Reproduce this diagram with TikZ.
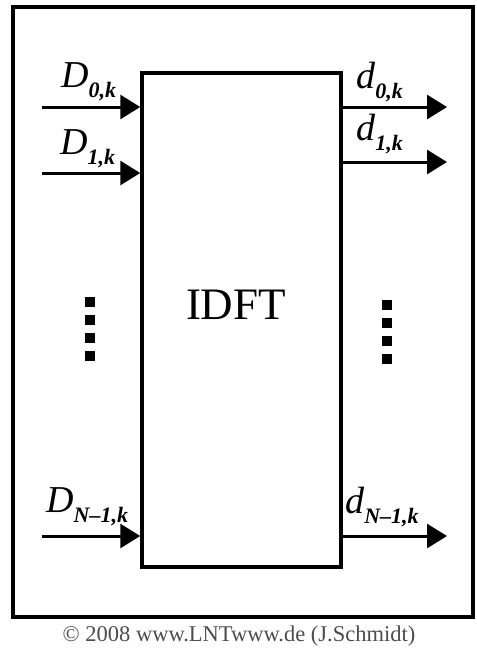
\documentclass[tikz,border=0pt]{standalone}
\usepackage{fontspec}
\setmainfont{Liberation Serif}
\usetikzlibrary{arrows.meta}
\newcommand{\sig}[2]{\textit{#1}\raisebox{-0.28em}{\fontsize{22}{22}\selectfont\bfseries\itshape #2}}
\tikzset{
  blk/.style={draw,line width=3.5pt,minimum width=199pt,minimum height=494pt,inner sep=0pt},
  sigl/.style={anchor=base west,inner sep=0pt,font=\fontsize{38}{38}\selectfont},
  flow/.style={->,line width=3pt},
}

\begin{document}
\begin{tikzpicture}[x=1pt,y=1pt,>={Triangle[length=20pt,width=24pt]}]
  \useasboundingbox (0,0) rectangle (477,-649);
  % ---------------- frame and IDFT block
  \draw[line width=4pt] (13,-7) rectangle (473,-617);
  \node[blk] (idft) at (241.5,-320) {};
  \node[font=\fontsize{45}{45}\selectfont] (name) at (236,-305) {IDFT};
  % ---------------- inputs D_{n,k}
  \coordinate (in0) at (42,-107);
  \coordinate (in1) at (42,-173);
  \coordinate (inN) at (42,-536);
  \draw[flow] (in0) -- (in0 -| idft.west);
  \draw[flow] (in1) -- (in1 -| idft.west);
  \draw[flow] (inN) -- (inN -| idft.west);
  \node[sigl] (D0) at (61,-87) {\sig{D}{0,k}};
  \node[sigl] (D1) at (60,-154) {\sig{D}{1,k}};
  \node[sigl] (DN) at (46,-512) {\sig{D}{N–1,k}};
  \foreach \y in {302,320,338,356}
    \fill (85,{5-\y}) rectangle ++(10,-10);
  % ---------------- outputs d_{n,k}
  \coordinate (out0) at (447,-107);
  \coordinate (out1) at (447,-162);
  \coordinate (outN) at (447,-536);
  \draw[flow] (out0 -| idft.east) -- (out0);
  \draw[flow] (out1 -| idft.east) -- (out1);
  \draw[flow] (outN -| idft.east) -- (outN);
  \node[sigl] (d0) at (356,-88) {\sig{d}{0,k}};
  \node[sigl] (d1) at (356,-140) {\sig{d}{1,k}};
  \node[sigl] (dN) at (345,-513) {\sig{d}{N–1,k}};
  \foreach \y in {305,323,341,359}
    \fill (382,{5-\y}) rectangle ++(10,-10);
  % ---------------- copyright
  \node[text=black!70,font=\fontsize{22.5}{22.5}\selectfont] (copy) at (239,-636) {© 2008 www.LNTwww.de (J.Schmidt)};
\end{tikzpicture}
\end{document}
